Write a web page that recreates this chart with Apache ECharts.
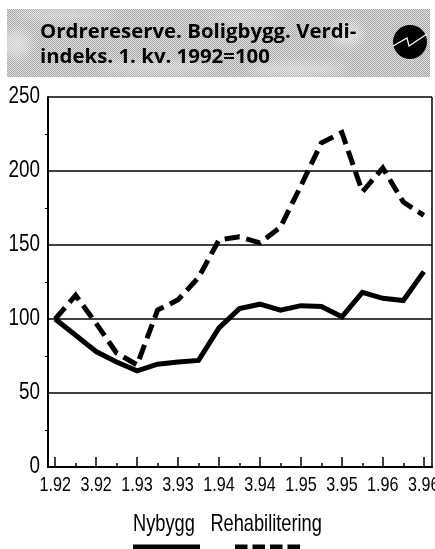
<!DOCTYPE html>
<html><head><meta charset="utf-8">
<style>html,body{margin:0;padding:0;background:#fff;overflow:hidden}#c{width:435px;height:549px}</style>
<script src="https://cdn.jsdelivr.net/npm/echarts@6/dist/echarts.min.js"></script>
</head><body><div id="c"></div>
<script>
const titleLines = ['Ordrereserve. Boligbygg. Verdi-', 'indeks. 1. kv. 1992=100'];
const seriesNames = ['Nybygg', 'Rehabilitering'];
const quarters = ['1.92','2.92','3.92','4.92','1.93','2.93','3.93','4.93','1.94','2.94','3.94','4.94','1.95','2.95','3.95','4.95','1.96','2.96','3.96'];
const nybygg = [100,89,78,71,65,69.5,71,72,94,107,110,106,109,108.5,101.5,118,114,112.5,132];
const rehabilitering = [100,116,97,77,69,106,113,128,153.5,155.5,151.5,162,190,219,226,186,202,179,170];
const majorTicks = [0,2,4,6,8,10,12,14,16,18];
const minorTicks = [1,3,5,7,9,11,13,15,17];
const FONT = '"Liberation Sans"';
const TITLE_FONT = '"Open Sans"';

// The reference's labels are a condensed grotesque: squeeze Liberation Sans horizontally about its anchor.
const squeezeBySize = {24:0.76, 23:0.82, 21:0.77};
const origFill = CanvasRenderingContext2D.prototype.fillText;
CanvasRenderingContext2D.prototype.fillText = function(t,x,y,m){
  if (this.font.indexOf('Liberation Sans') < 0) return origFill.call(this,t,x,y,m);
  const s = squeezeBySize[parseInt(this.font.match(/(\d+)px/)[1])] || 0.8;
  this.save(); this.translate(x,y); this.scale(s,1);
  origFill.call(this,t,0,0);
  this.restore();
};

// Header band: dithered grey with soft lighter clouds.
const bandCanvas = document.createElement('canvas');
bandCanvas.width = 423; bandCanvas.height = 68;
const bc = bandCanvas.getContext('2d');
bc.fillStyle = '#e2e2e2'; bc.fillRect(0,0,423,68);
bc.fillStyle = '#a4a4a4';
for (let py = 0; py < 68; py++) for (let px = py % 2; px < 423; px += 2) bc.fillRect(px,py,1,1);
bc.filter = 'blur(5px)';
bc.fillStyle = 'rgba(240,240,240,0.55)';
[[60,6,50,4],[10,35,14,14],[150,58,60,5],[290,60,50,6],[240,8,40,4],[340,25,16,12]].forEach(e => {
  bc.beginPath(); bc.ellipse(e[0],e[1],e[2],e[3],0,0,7); bc.fill();
});
bc.filter = 'none';

const chart = echarts.init(document.getElementById('c'), null, {renderer:'canvas'});
const toPoints = vals => vals.map((v,i)=>[i,v]);
const baseX = {
  type:'value', min:-0.35, max:18.4, position:'bottom',
  splitLine:{show:false},
  axisLine:{show:true,onZero:false,lineStyle:{color:'#000',width:2}}
};
chart.setOption({
  animation:false,
  backgroundColor:'#fff',
  grid:{left:48,right:3,top:97,height:370,containLabel:false,outerBoundsMode:'none'},
  legend:{
    left:128, top:512, padding:0, itemWidth:0, itemHeight:1, itemGap:-9, icon:'none',
    data:seriesNames.map(n=>({name:n,icon:'none'})),
    selectedMode:false,
    textStyle:{fontFamily:FONT,fontSize:24,color:'#000'}
  },
  xAxis:[
    Object.assign({},baseX,{
      axisTick:{show:true,inside:true,length:10,customValues:majorTicks,lineStyle:{color:'#000',width:1.5}},
      axisLabel:{show:true,customValues:majorTicks,margin:8,fontFamily:FONT,fontSize:21,color:'#000',hideOverlap:false,
        formatter:v=>quarters[v]}
    }),
    Object.assign({},baseX,{
      axisTick:{show:true,inside:true,length:4,customValues:minorTicks,lineStyle:{color:'#000',width:1.5}},
      axisLabel:{show:false}
    })
  ],
  yAxis:{
    type:'value',min:0,max:250,interval:50,
    axisLine:{show:true,onZero:false,lineStyle:{color:'#000',width:2}},
    axisTick:{show:false},
    minorTick:{show:true,splitNumber:2,length:3,lineStyle:{color:'#000',width:1}},
    axisLabel:{margin:8,fontFamily:FONT,fontSize:23,color:'#000'},
    splitLine:{show:true,lineStyle:{color:'#000',width:1.5}}
  },
  series:[
    {name:seriesNames[0],type:'line',data:toPoints(nybygg),symbol:'none',clip:false,
      lineStyle:{color:'#000',width:5,join:'miter',cap:'butt'},itemStyle:{color:'#000'},z:3},
    {name:seriesNames[1],type:'line',data:toPoints(rehabilitering),symbol:'none',clip:false,
      lineStyle:{color:'#000',width:5,type:[15,7],join:'miter',cap:'butt'},itemStyle:{color:'#000'},z:4}
  ],
  graphic:[
    {type:'image',style:{image:bandCanvas,x:7,y:9,width:423,height:68},z:1},
    {type:'text',style:{x:40,y:32,text:titleLines[0],fontFamily:TITLE_FONT,fontWeight:700,fontSize:20.4,fill:'#000',textVerticalAlign:'middle'},z:5},
    {type:'text',style:{x:40,y:57,text:titleLines[1],fontFamily:TITLE_FONT,fontWeight:700,fontSize:20.4,fill:'#000',textVerticalAlign:'middle'},z:5},
    {type:'circle',shape:{cx:410,cy:42,r:17},style:{fill:'#000'},z:5},
    {type:'polyline',shape:{points:[[393,46],[407,38],[409,46],[427,34]]},style:{stroke:'#fff',lineWidth:1.2,fill:null},z:6},
    {type:'line',shape:{x1:133,y1:547,x2:200,y2:547},style:{stroke:'#000',lineWidth:5},z:5},
    {type:'line',shape:{x1:235,y1:547,x2:302,y2:547},style:{stroke:'#000',lineWidth:5,lineDash:[12.5,5]},z:5},
    {type:'line',shape:{x1:432,y1:97,x2:432,y2:467},style:{stroke:'#000',lineWidth:1.5},z:5}
  ]
});
</script></body></html>
